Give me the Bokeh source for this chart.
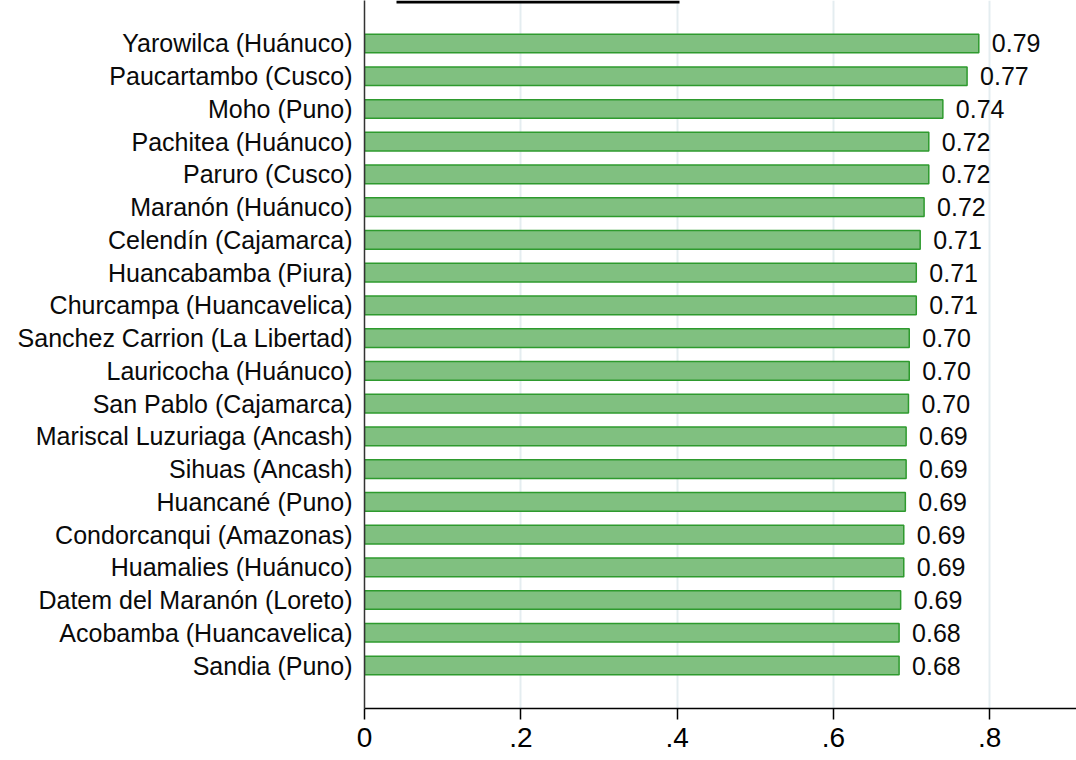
from bokeh.plotting import figure
from bokeh.models import Range1d, FixedTicker, BoxAnnotation
from bokeh.core.properties import value
from bokeh.embed import file_html
from bokeh.resources import INLINE

categories = [
    "Yarowilca (Huánuco)",
    "Paucartambo (Cusco)",
    "Moho (Puno)",
    "Pachitea (Huánuco)",
    "Paruro (Cusco)",
    "Maranón (Huánuco)",
    "Celendín (Cajamarca)",
    "Huancabamba (Piura)",
    "Churcampa (Huancavelica)",
    "Sanchez Carrion (La Libertad)",
    "Lauricocha (Huánuco)",
    "San Pablo (Cajamarca)",
    "Mariscal Luzuriaga (Ancash)",
    "Sihuas (Ancash)",
    "Huancané (Puno)",
    "Condorcanqui (Amazonas)",
    "Huamalies (Huánuco)",
    "Datem del Maranón (Loreto)",
    "Acobamba (Huancavelica)",
    "Sandia (Puno)",
]
values = [0.786, 0.771, 0.740, 0.722, 0.722, 0.716, 0.711, 0.706, 0.706, 0.697,
          0.697, 0.696, 0.693, 0.693, 0.692, 0.690, 0.690, 0.686, 0.684, 0.684]
x_ticks = [0, 0.2, 0.4, 0.6, 0.8]
x_tick_labels = ["0", ".2", ".4", ".6", ".8"]

n = len(categories)
ypos = [n - i for i in range(n)]
val_labels = ["%.2f" % v for v in values]

FONT = "Liberation Sans"

p = figure(width=1076, height=760, title=None,
           x_range=Range1d(0, 0.911), y_range=Range1d(-0.313, 21.313),
           output_backend="svg", toolbar_location=None,
           min_border_left=364, min_border_right=0,
           min_border_top=0, min_border_bottom=52)
p.outline_line_color = None
p.background_fill_color = "white"
p.border_fill_color = "white"

p.hbar(y=ypos, left=0, right=values, height=0.57,
       fill_color="#80C080", line_color="#2E9A2E", line_width=1.5)

p.text(x=values, y=ypos, text=val_labels, x_offset=13,
       text_baseline="middle", text_align="left",
       text_font=value(FONT), text_font_size="25px", text_color="#0a0a0a")

# cropped title underline at the very top of the image (frame-relative screen units)
p.add_layout(BoxAnnotation(left=32, right=315, top=708, bottom=705,
                           left_units="screen", right_units="screen",
                           top_units="screen", bottom_units="screen",
                           fill_color="black", fill_alpha=1.0,
                           line_color=None, level="overlay"))

# x axis
p.xaxis.ticker = FixedTicker(ticks=x_ticks)
p.xaxis.major_label_overrides = {t: l for t, l in zip(x_ticks, x_tick_labels)}
p.xaxis.axis_line_color = "black"
p.xaxis.axis_line_width = 1.5
p.xaxis.major_tick_in = 0
p.xaxis.major_tick_out = 11
p.xaxis.major_tick_line_width = 1.5
p.xaxis.minor_tick_line_color = None
p.xaxis.major_label_text_font = FONT
p.xaxis.major_label_text_font_size = "28px"
p.xaxis.major_label_text_color = "black"
p.xaxis.major_label_standoff = 8

# y axis
p.yaxis.ticker = FixedTicker(ticks=ypos)
p.yaxis.major_label_overrides = {y: c for y, c in zip(ypos, categories)}
p.yaxis.axis_line_color = "#333333"
p.yaxis.axis_line_width = 1.5
p.yaxis.major_tick_in = 0
p.yaxis.major_tick_out = 0
p.yaxis.minor_tick_line_color = None
p.yaxis.major_label_text_font = FONT
p.yaxis.major_label_text_font_size = "25px"
p.yaxis.major_label_text_color = "#0a0a0a"
p.yaxis.major_label_standoff = 12

p.xgrid.ticker = FixedTicker(ticks=x_ticks)
p.xgrid.grid_line_color = "#E4EDF0"
p.xgrid.grid_line_width = 2
p.ygrid.visible = False

open("out.html", "w").write(file_html(p, INLINE))
